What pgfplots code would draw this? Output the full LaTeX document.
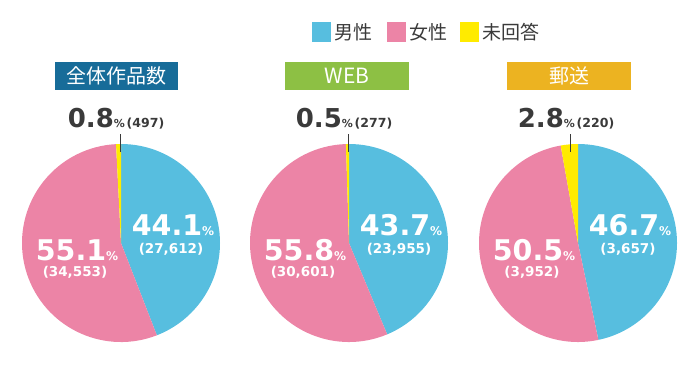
\documentclass[border=0pt]{standalone}
\usepackage{pgfplots}
\pgfplotsset{compat=1.18}
\usepackage{fontspec}
\setmainfont{DejaVu Sans}
\newfontfamily\cjk{Noto Sans CJK JP}
\definecolor{cmale}{HTML}{57BEDF}
\definecolor{cfemale}{HTML}{EC84A6}
\definecolor{cnone}{HTML}{FFEB00}
\definecolor{tblue}{HTML}{176C99}
\definecolor{tgreen}{HTML}{8DC044}
\definecolor{torange}{HTML}{ECB321}
\definecolor{tgray}{HTML}{3A3A3A}
\def\R{99pt}
% pie: cx, cy, male %, female %, no answer %
\newcommand\pie[5]{%
 \fill[cmale] (axis cs:#1,#2) -- ++(90:\R) arc[start angle=90, delta angle={-#3*3.6}, radius=\R] -- cycle;
 \fill[cfemale] (axis cs:#1,#2) -- ++({90-#3*3.6}:\R) arc[start angle={90-#3*3.6}, delta angle={-#4*3.6}, radius=\R] -- cycle;
 \fill[cnone] (axis cs:#1,#2) -- ++({90-(#3+#4)*3.6}:\R) arc[start angle={90-(#3+#4)*3.6}, delta angle={-#5*3.6}, radius=\R] -- cycle;
}
% labels: cx, male%, male n, female%, female n, none%, none n, leader x
\newcommand\pielabels[8]{%
 \node[anchor=base, text=white, inner sep=0pt] at (axis cs:#1+52,235) {\bfseries\fontsize{28.5}{30}\selectfont #2\fontsize{12}{14}\selectfont\%};
 \node[anchor=base, text=white, inner sep=0pt] at (axis cs:#1+50,253) {\bfseries\fontsize{13.5}{15}\selectfont(#3)};
 \node[anchor=base, text=white, inner sep=0pt] at (axis cs:#1-44,260) {\bfseries\fontsize{28.5}{30}\selectfont #4\fontsize{12}{14}\selectfont\%};
 \node[anchor=base, text=white, inner sep=0pt] at (axis cs:#1-46,276) {\bfseries\fontsize{13.5}{15}\selectfont(#5)};
 \node[anchor=base, text=tgray, inner sep=0pt] at (axis cs:#8-4,127) {\bfseries\fontsize{26}{28}\selectfont #6\fontsize{11}{13}\selectfont\%\,\fontsize{12.5}{14}\selectfont(#7)};
 \draw[tgray, line width=0.8pt] (axis cs:#8,134) -- (axis cs:#8,152);
}
\begin{document}
\begin{tikzpicture}
\begin{axis}[
  scale only axis, width=700pt, height=375pt,
  xmin=0, xmax=700, ymin=0, ymax=375, y dir=reverse,
  hide axis, clip=false]
\addplot[draw=none] coordinates {(0,0)};
% pies
\pie{121}{243}{44.1}{55.1}{0.8}
\pie{349}{243}{43.7}{55.8}{0.5}
\pie{578}{243}{46.7}{50.5}{2.8}
\pielabels{121}{44.1}{27,612}{55.1}{34,553}{0.8}{497}{120}
\pielabels{349}{43.7}{23,955}{55.8}{30,601}{0.5}{277}{348}
\pielabels{578}{46.7}{3,657}{50.5}{3,952}{2.8}{220}{570}
% titles
\fill[tblue] (axis cs:55,62) rectangle (axis cs:178,90);
\node[text=white] at (axis cs:116.5,76) {\cjk\fontsize{20}{22}\selectfont 全体作品数};
\fill[tgreen] (axis cs:285,62) rectangle (axis cs:409,90);
\node[text=white] at (axis cs:347,76) {\cjk\fontsize{21}{22}\selectfont WEB};
\fill[torange] (axis cs:507,62) rectangle (axis cs:631,90);
\node[text=white] at (axis cs:569,76) {\cjk\fontsize{20}{22}\selectfont 郵送};
% legend
\fill[cmale] (axis cs:312,22) rectangle (axis cs:331,42);
\node[anchor=west, text=tgray, inner sep=0pt] at (axis cs:334,32) {\cjk\fontsize{19}{21}\selectfont 男性};
\fill[cfemale] (axis cs:387,22) rectangle (axis cs:406,42);
\node[anchor=west, text=tgray, inner sep=0pt] at (axis cs:409,32) {\cjk\fontsize{19}{21}\selectfont 女性};
\fill[cnone] (axis cs:460,22) rectangle (axis cs:479,42);
\node[anchor=west, text=tgray, inner sep=0pt] at (axis cs:482,32) {\cjk\fontsize{19}{21}\selectfont 未回答};
\end{axis}
\pgfresetboundingbox
\path (current axis.south west) rectangle (current axis.north east);
\end{tikzpicture}
\end{document}
